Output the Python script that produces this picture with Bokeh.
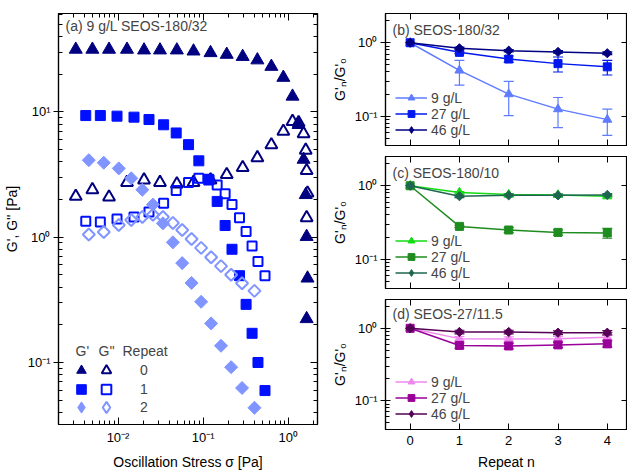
import numpy as np
from bokeh.plotting import figure
from bokeh.layouts import row, column
from bokeh.models import (ColumnDataSource, LogAxis, LinearAxis, FixedTicker,
                          CustomJSTickFormatter, Range1d, Legend, LegendItem,
                          Label, Whisker, TeeHead)
from bokeh.embed import file_html
from bokeh.resources import INLINE

FONT = "Liberation Sans"

# ---------------- panel (a): amplitude sweeps, 9 g/L SEOS-180/32 ----------------
stress_r0 = [0.00319, 0.00500, 0.00784, 0.01275, 0.0202, 0.0311, 0.0491, 0.0770,
             0.122, 0.189, 0.291, 0.433, 0.632, 0.874, 1.12, 1.32, 1.51, 1.60,
             1.64, 1.68, 1.64]
gp_r0 = [31.5, 31.5, 31.5, 31.5, 31.1, 31.1, 31.1, 30.5, 29.6, 28.7, 27.6, 25.9,
         23.0, 18.8, 13.3, 7.9, 4.17, 2.18, 1.01, 0.47, 0.223]
gpp_r0 = [2.12, 2.39, 2.09, 2.73, 2.86, 2.73, 2.66, 2.73, 2.86, 3.16, 3.59, 4.31,
          5.46, 6.99, 8.38, 8.19, 6.70, 4.94, 3.40, 2.25, 1.43]

stress_r1 = [0.00418, 0.00620, 0.00973, 0.0154, 0.0231, 0.0343, 0.0482, 0.0673,
             0.0889, 0.1165, 0.146, 0.181, 0.218, 0.267, 0.319, 0.375, 0.440, 0.532]
gp_r1 = [9.35, 9.35, 9.25, 9.08, 8.69, 7.89, 6.79, 5.48, 4.07, 2.86, 1.93, 1.24,
         0.801, 0.493, 0.291, 0.171, 0.100, 0.0597]
gpp_r1 = [1.34, 1.32, 1.40, 1.45, 1.59, 1.87, 2.36, 2.73, 2.95, 2.90, 2.61, 2.22,
          1.82, 1.43, 1.11, 0.852, 0.640, 0.493]

stress_r2 = [0.00454, 0.00680, 0.0102, 0.0143, 0.0193, 0.0257, 0.0337, 0.0441,
             0.0567, 0.0730, 0.0946, 0.124, 0.162, 0.213, 0.286, 0.400]
gp_r2 = [4.12, 3.93, 3.54, 2.95, 2.39, 1.82, 1.29, 0.910, 0.621, 0.431, 0.305,
         0.205, 0.136, 0.0918, 0.0626, 0.0435]
gpp_r2 = [1.05, 1.10, 1.25, 1.37, 1.45, 1.51, 1.45, 1.30, 1.14, 0.968, 0.822,
          0.692, 0.588, 0.501, 0.429, 0.373]

repeat_labels = ["0", "1", "2"]

# ---------------- panels (b)-(d): G'_n / G'_0 vs repeat ----------------
repeat_n = [0, 1, 2, 3, 4]
conc_labels = ["9 g/L", "27 g/L", "46 g/L"]

b_9 = [1.0, 0.42, 0.20, 0.125, 0.090]
b_9_err = [0, 0.155, 0.098, 0.055, 0.035]
b_27 = [1.0, 0.74, 0.60, 0.52, 0.47]
b_27_err = [0, 0.03, 0.06, 0.12, 0.106]
b_46 = [1.0, 0.84, 0.78, 0.75, 0.72]
b_46_err = [0, 0.03, 0.03, 0.03, 0.03]

c_9 = [1.0, 0.81, 0.76, 0.75, 0.72]
c_9_err = [0, 0.02, 0.02, 0.02, 0.02]
c_27 = [1.0, 0.28, 0.25, 0.232, 0.228]
c_27_err = [0, 0.01, 0.02, 0.02, 0.035]
c_46 = [1.0, 0.72, 0.74, 0.74, 0.75]
c_46_err = [0, 0.03, 0.03, 0.03, 0.03]

d_9 = [1.0, 0.72, 0.71, 0.72, 0.75]
d_9_err = [0, 0.05, 0.05, 0.05, 0.05]
d_27 = [1.0, 0.58, 0.57, 0.59, 0.61]
d_27_err = [0, 0.05, 0.05, 0.05, 0.06]
d_46 = [1.0, 0.89, 0.89, 0.87, 0.87]
d_46_err = [0, 0.05, 0.05, 0.05, 0.06]

NAVY = "#000080"
BLUE = "#0010FF"
LIGHT = "#8095FF"
NAN = [float("nan")]

SUP = ("const s={'-':'\u207b','0':'\u2070','1':'\u00b9','2':'\u00b2','3':'\u00b3',"
       "'4':'\u2074','5':'\u2075','6':'\u2076','7':'\u2077','8':'\u2078','9':'\u2079'};"
       "const e=Math.round(Math.log10(tick));"
       "return '10'+String(e).split('').map(c=>s[c]).join('');")


def decade_ticks(lo, hi):
    major = [10.0 ** k for k in range(lo, hi + 1)]
    minor = [m * 10.0 ** k for k in range(lo, hi) for m in range(2, 10)]
    return major, minor


def style_axis(ax, labels=True, tin=6, tout=0, minor_in=3):
    ax.axis_line_color = "black"
    ax.axis_line_width = 1.2
    ax.major_tick_line_color = "black"
    ax.minor_tick_line_color = "black"
    ax.major_tick_line_width = 1
    ax.minor_tick_line_width = 1
    ax.major_tick_in = tin
    ax.major_tick_out = tout
    ax.minor_tick_in = minor_in
    ax.minor_tick_out = 0
    ax.major_label_text_font = FONT
    ax.major_label_text_font_size = "13px"
    ax.major_label_text_color = "black"
    ax.axis_label_text_font = FONT
    ax.axis_label_text_font_size = "14px"
    ax.axis_label_text_font_style = "normal"
    ax.axis_label_text_color = "black"
    if not labels:
        ax.formatter = CustomJSTickFormatter(code="return ''")
        ax.major_label_standoff = 0
        ax.major_label_text_font_size = "0px"


def row_legend(plot, renderers, label, vx, vy, gw, gh, standoff):
    leg = Legend(items=[LegendItem(label=label, renderers=renderers)],
                 location=(vx, vy), glyph_width=gw, glyph_height=gh,
                 padding=0, margin=0, spacing=0, background_fill_alpha=0,
                 border_line_alpha=0, label_text_font=FONT,
                 label_text_font_size="14px", label_standoff=standoff,
                 label_height=gh)
    plot.add_layout(leg)


# ---------------- left figure ----------------
pa = figure(width=328, height=472, x_axis_type="log", y_axis_type="log",
            x_range=Range1d(0.002, 2.2), y_range=Range1d(0.032, 61),
            output_backend="svg", toolbar_location=None,
            min_border_left=55, min_border_right=11, min_border_top=13,
            min_border_bottom=43)
pa.grid.visible = False
pa.outline_line_color = "black"
pa.outline_line_width = 1.2

xmaj, xmin = decade_ticks(-3, 1)
ymaj, ymin = decade_ticks(-2, 2)

pa.xaxis.ticker = FixedTicker(ticks=xmaj, minor_ticks=xmin)
pa.yaxis.ticker = FixedTicker(ticks=ymaj, minor_ticks=ymin)
pa.xaxis.formatter = CustomJSTickFormatter(code=SUP)
pa.yaxis.formatter = CustomJSTickFormatter(code=SUP)
for ax in pa.xaxis:
    style_axis(ax, tin=7, tout=0, minor_in=4)
    ax.major_label_standoff = 5
    ax.axis_label_standoff = 6
for ax in pa.yaxis:
    style_axis(ax, tin=5, tout=5, minor_in=4)
    ax.major_label_standoff = 3
    ax.axis_label_standoff = 5
pa.xaxis.axis_label = "Oscillation Stress \u03c3 [Pa]"
pa.yaxis.axis_label = "G', G'' [Pa]"

top_a = LogAxis(ticker=FixedTicker(ticks=xmaj, minor_ticks=xmin))
style_axis(top_a, labels=False, tin=7, tout=0, minor_in=4)
pa.add_layout(top_a, "above")
right_a = LogAxis(ticker=FixedTicker(ticks=ymaj, minor_ticks=ymin))
style_axis(right_a, labels=False, tin=7, tout=0, minor_in=4)
pa.add_layout(right_a, "right")

series_a = [
    (stress_r0, gp_r0, gpp_r0, "triangle", NAVY, 13, 12, 0.0, "triangle"),
    (stress_r1, gp_r1, gpp_r1, "square", BLUE, 10, 9, 0.0, "square"),
    (stress_r2, gp_r2, gpp_r2, "square", LIGHT, 9.2, 8.5, np.pi / 4, "diamond"),
]
legend_rows_a = [42, 23, 5]
for (xs, gp, gpp, mk, col, sz_f, sz_h, ang, legmk), vy, lab in zip(series_a, legend_rows_a, repeat_labels):
    pa.scatter(xs, gpp, marker=mk, size=sz_h, angle=ang, fill_color=None,
               line_color=col, line_width=2)
    pa.scatter(xs, gp, marker=mk, size=sz_f, angle=ang, fill_color=col,
               line_color=col, line_width=1)
    # legend-only glyphs (legend markers cannot be rotated); no visible points
    lf = pa.scatter(x=NAN, y=NAN, marker=legmk, fill_color=col, line_color=col, line_width=1)
    lh = pa.scatter(x=NAN, y=NAN, marker=legmk, fill_color=None, line_color=col, line_width=2)
    gsz = 28 if legmk == "diamond" else 24
    d = (gsz - 24) / 2
    row_legend(pa, [lf], "", 11 - d, vy - d, gsz, gsz, 0)
    row_legend(pa, [lh], lab, 36 - d, vy - d, gsz, gsz, int(22 - d))

for txt, xx in [("G'", 17), ("G''", 40), ("Repeat", 64)]:
    pa.add_layout(Label(x=xx, y=82, x_units="screen", y_units="screen", text=txt,
                        text_baseline="top", text_font=FONT, text_font_size="14px"))
pa.add_layout(Label(x=7, y=407, x_units="screen", y_units="screen",
                    text="(a) 9 g/L SEOS-180/32", text_baseline="top",
                    text_font=FONT, text_font_size="14px"))


# ---------------- right figures ----------------
def right_panel(tag, data, colors, pos):
    heights = {"top": 151, "mid": 143, "bot": 178}
    tops = {"top": 13, "mid": 5, "bot": 5}
    bots = {"top": 6, "mid": 6, "bot": 43}
    last = pos == "bot"
    p = figure(width=299, height=heights[pos], y_axis_type="log",
               x_range=Range1d(-0.5, 4.41), y_range=Range1d(0.04, 2.5),
               output_backend="svg", toolbar_location=None,
               min_border_left=50, min_border_right=0, min_border_top=tops[pos],
               min_border_bottom=bots[pos])
    p.grid.visible = False
    p.outline_line_color = "black"
    p.outline_line_width = 1.2
    maj, mnr = decade_ticks(-2, 1)
    p.yaxis.ticker = FixedTicker(ticks=maj, minor_ticks=mnr)
    p.yaxis.formatter = CustomJSTickFormatter(code=SUP)
    p.xaxis.ticker = FixedTicker(ticks=repeat_n)
    for ax in p.yaxis:
        style_axis(ax, tin=5, tout=5, minor_in=4)
        ax.major_label_standoff = 3
        ax.axis_label_standoff = 4
    p.yaxis.axis_label = "G'\u2099/G'\u2080"
    for ax in p.xaxis:
        style_axis(ax, labels=last, tin=6, tout=0, minor_in=0)
        ax.major_label_standoff = 6
        ax.axis_label_standoff = 6
    if last:
        p.xaxis.axis_label = "Repeat n"
    top = LinearAxis(ticker=FixedTicker(ticks=repeat_n))
    style_axis(top, labels=False, tin=6, tout=0, minor_in=0)
    p.add_layout(top, "above")
    rgt = LogAxis(ticker=FixedTicker(ticks=maj, minor_ticks=[]))
    style_axis(rgt, labels=False, tin=6, tout=0, minor_in=0)
    p.add_layout(rgt, "right")

    markers = [("triangle", 9, 0.0, "triangle"), ("square", 8, 0.0, "square"),
               ("square", 6.5, np.pi / 4, "diamond")]
    leg_vy = [39, 23, 7]
    for (vals, errs), col, (mk, sz, ang, legmk), lab, vy in zip(data, colors, markers, conc_labels, leg_vy):
        xs = [n for n, e in zip(repeat_n, errs) if e > 0]
        lo = [v - e for v, e in zip(vals, errs) if e > 0]
        hi = [v + e for v, e in zip(vals, errs) if e > 0]
        src = ColumnDataSource(dict(x=xs, lo=lo, hi=hi))
        p.add_layout(Whisker(base="x", lower="lo", upper="hi", source=src,
                             line_color=col, line_width=1.2,
                             upper_head=TeeHead(size=10, line_color=col, line_width=1.2),
                             lower_head=TeeHead(size=10, line_color=col, line_width=1.2)))
        rl = p.line(repeat_n, vals, line_color=col, line_width=1.5)
        p.scatter(repeat_n, vals, marker=mk, size=sz, angle=ang,
                  fill_color=col, line_color=col)
        ls = p.scatter(x=NAN, y=NAN, marker=legmk, fill_color=col, line_color=col)
        row_legend(p, [rl, ls], lab, 10, vy, 32, 17, 4)
    p.add_layout(Label(x=7, y=124, x_units="screen", y_units="screen", text=tag,
                       text_baseline="top", text_font=FONT, text_font_size="14px"))
    return p


pb = right_panel("(b) SEOS-180/32",
                 [(b_9, b_9_err), (b_27, b_27_err), (b_46, b_46_err)],
                 ["#5F7BFF", "#0018EE", NAVY], "top")
pc = right_panel("(c) SEOS-180/10",
                 [(c_9, c_9_err), (c_27, c_27_err), (c_46, c_46_err)],
                 ["#11DD11", "#1F8C1F", "#1E6650"], "mid")
pd = right_panel("(d) SEOS-27/11.5",
                 [(d_9, d_9_err), (d_27, d_27_err), (d_46, d_46_err)],
                 ["#EE88EE", "#990099", "#550055"], "bot")

layout = row(pa, column(pb, pc, pd))
open("out.html", "w").write(file_html(layout, INLINE))
